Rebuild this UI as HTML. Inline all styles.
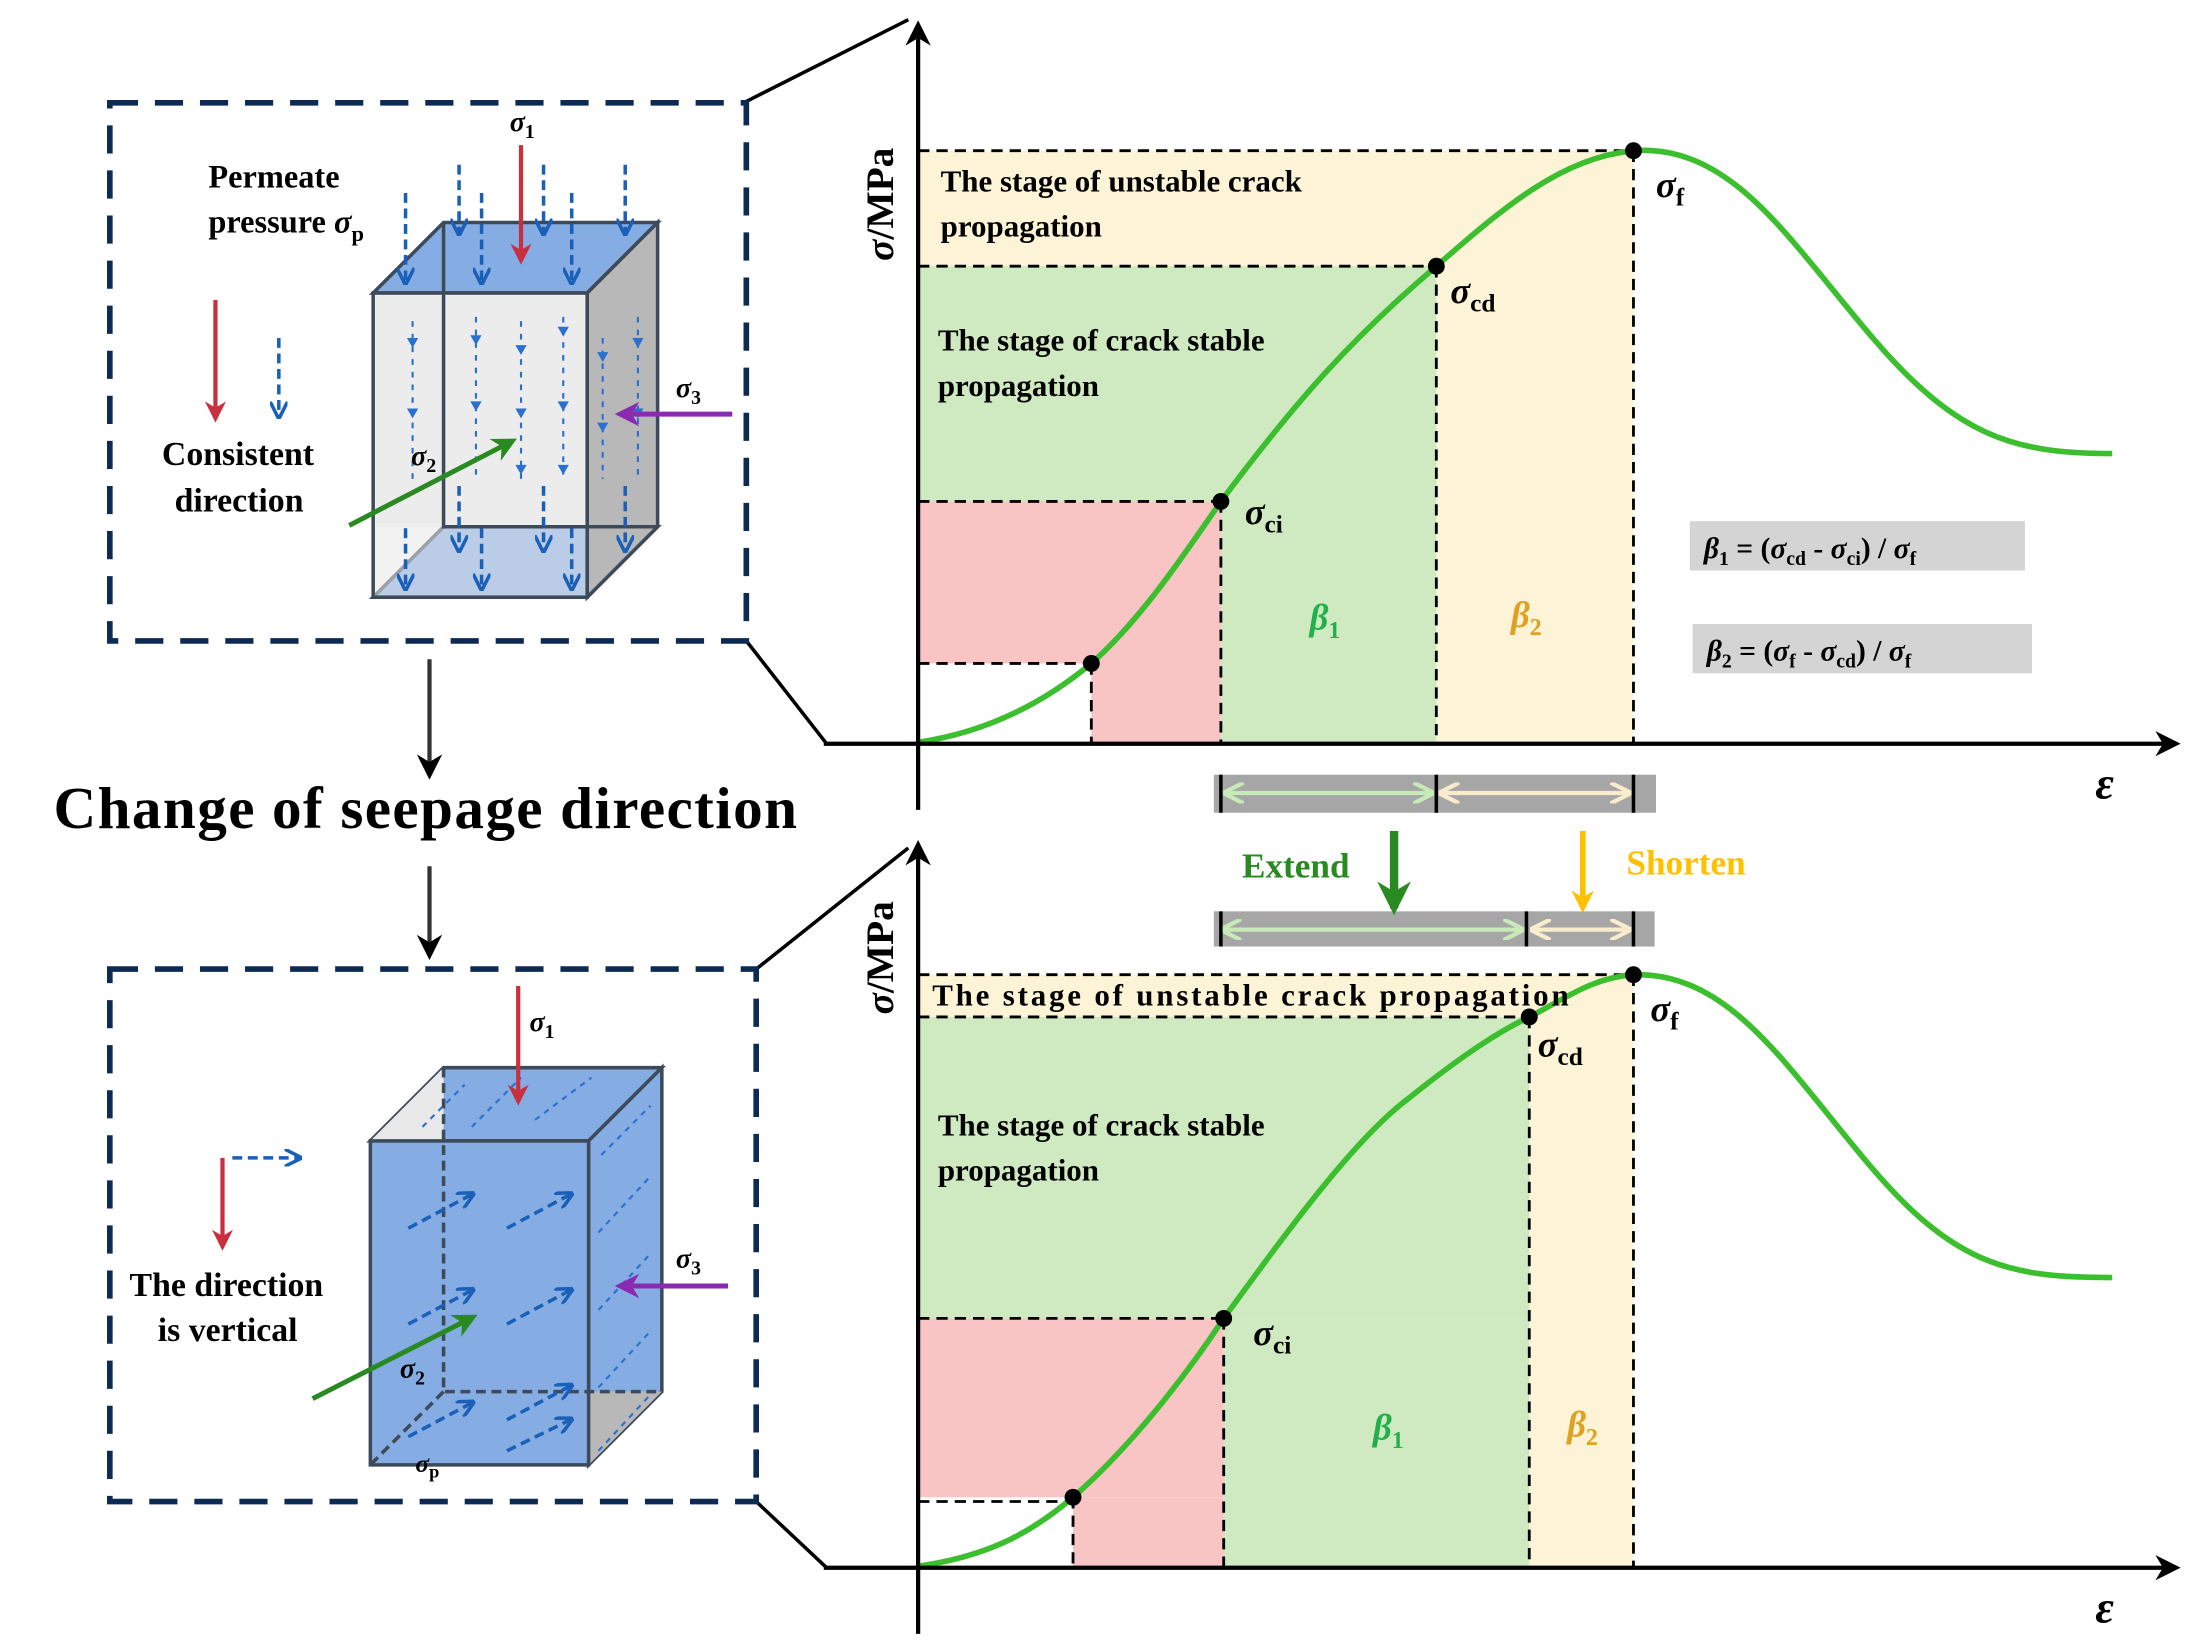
<!DOCTYPE html>
<html><head><meta charset="utf-8"><style>html,body{margin:0;padding:0;background:#fff}svg{display:block}</style></head>
<body>
<svg width="2208" height="1648" viewBox="0 0 1568 1170" preserveAspectRatio="none" xmlns="http://www.w3.org/2000/svg" font-family="Liberation Serif, serif" font-weight="bold">
<defs>
<marker id="ab" viewBox="0 0 10 10" refX="8" refY="5" markerWidth="6" markerHeight="6" orient="auto"><path d="M0,0 L10,5 L0,10 L3,5z" fill="#000"/></marker>
<marker id="ar" viewBox="0 0 10 10" refX="8" refY="5" markerWidth="5" markerHeight="5" orient="auto"><path d="M0,0 L10,5 L0,10 L3,5z" fill="#c8303f"/></marker>
<marker id="ap" viewBox="0 0 10 10" refX="8" refY="5" markerWidth="5" markerHeight="5" orient="auto"><path d="M0,0 L10,5 L0,10 L3,5z" fill="#8a2ab0"/></marker>
<marker id="ag" viewBox="0 0 10 10" refX="8" refY="5" markerWidth="5" markerHeight="5" orient="auto"><path d="M0,0 L10,5 L0,10 L3,5z" fill="#2a8a22"/></marker>
<marker id="abl" viewBox="0 0 10 10" refX="8" refY="5" markerWidth="5" markerHeight="5" orient="auto"><path d="M0,0 L10,5 L0,10" fill="none" stroke="#1a5fb8" stroke-width="2"/></marker>
<marker id="ao" viewBox="0 0 10 10" refX="8" refY="5" markerWidth="4" markerHeight="4" orient="auto"><path d="M0,0 L10,5 L0,10 L3,5z" fill="#ffc000"/></marker>
<marker id="agd" viewBox="0 0 10 10" refX="8" refY="5" markerWidth="4" markerHeight="4" orient="auto"><path d="M0,0 L10,5 L0,10 L3,5z" fill="#2a8a22"/></marker>
<marker id="alg" viewBox="0 0 10 10" refX="9" refY="5" markerWidth="5" markerHeight="5" orient="auto-start-reverse"><path d="M0,0 L10,5 L0,10" fill="none" stroke="#c8eab8" stroke-width="2"/></marker>
<marker id="aly" viewBox="0 0 10 10" refX="9" refY="5" markerWidth="5" markerHeight="5" orient="auto-start-reverse"><path d="M0,0 L10,5 L0,10" fill="none" stroke="#f8eccc" stroke-width="2"/></marker>
</defs>

<!-- ===== TOP CHART ===== -->
<rect x="652" y="107" width="508" height="83" fill="#fdf3d6"/>
<rect x="1020" y="189" width="140" height="339" fill="#fdf3d6"/>
<rect x="652" y="189" width="368" height="167" fill="#cfeac0"/>
<rect x="867" y="356" width="153" height="172" fill="#cfeac0"/>
<rect x="652" y="356" width="215" height="115" fill="#f8c4c4"/>
<rect x="775" y="471" width="92" height="57" fill="#f8c4c4"/>
<g stroke="#000" stroke-width="2" stroke-dasharray="8,5" fill="none">
<path d="M652,107H1160M652,189H1020M652,356H867M652,471H775M1160,107V528M1020,189V528M867,356V528M775,471V528"/>
</g>
<path d="M652,527 C700,520 740,500 775,471 C810,440 840,395 867,356 C920,285 960,240 1020,189 C1070,145 1110,112 1160,107 C1230,102 1270,170 1330,240 C1390,310 1430,322 1500,322" fill="none" stroke="#3cbf2e" stroke-width="4"/>
<g fill="#000"><circle cx="775" cy="471" r="6"/><circle cx="867" cy="356" r="6"/><circle cx="1020" cy="189" r="6"/><circle cx="1160" cy="107" r="6"/></g>
<line x1="652" y1="575" x2="652" y2="18" stroke="#000" stroke-width="3" marker-end="url(#ab)"/>
<line x1="585" y1="528" x2="1545" y2="528" stroke="#000" stroke-width="3" marker-end="url(#ab)"/>
<text transform="translate(634,145) rotate(-90)" font-size="28" text-anchor="middle"><tspan font-style="italic">σ</tspan>/MPa</text>
<text x="1488" y="567" font-size="32" font-style="italic">ε</text>
<g font-size="22"><text x="668" y="136">The stage of unstable crack</text><text x="668" y="168">propagation</text>
<text x="666" y="249">The stage of crack stable</text><text x="666" y="281">propagation</text></g>
<g font-size="26" font-style="italic"><text x="884" y="372">σ<tspan font-size="18" font-style="normal" dy="6">ci</tspan></text>
<text x="1030" y="215">σ<tspan font-size="18" font-style="normal" dy="6">cd</tspan></text>
<text x="1176" y="140">σ<tspan font-size="18" font-style="normal" dy="6">f</tspan></text></g>
<text x="930" y="447" font-size="26" font-style="italic" fill="#22b04a">β<tspan font-size="17" dy="6" font-style="normal">1</tspan></text>
<text x="1073" y="445" font-size="26" font-style="italic" fill="#e0a020">β<tspan font-size="17" dy="6" font-style="normal">2</tspan></text>
<rect x="1200" y="370" width="238" height="35" fill="#d4d4d4"/>
<rect x="1202" y="443" width="241" height="35" fill="#d4d4d4"/>
<g font-size="21" font-style="italic"><text x="1210" y="396">β<tspan font-size="14" dy="5" font-style="normal">1</tspan><tspan dy="-5" font-style="normal"> = (</tspan>σ<tspan font-size="14" dy="5" font-style="normal">cd</tspan><tspan dy="-5" font-style="normal"> - </tspan>σ<tspan font-size="14" dy="5" font-style="normal">ci</tspan><tspan dy="-5" font-style="normal">) / </tspan>σ<tspan font-size="14" dy="5" font-style="normal">f</tspan></text>
<text x="1212" y="469">β<tspan font-size="14" dy="5" font-style="normal">2</tspan><tspan dy="-5" font-style="normal"> = (</tspan>σ<tspan font-size="14" dy="5" font-style="normal">f</tspan><tspan dy="-5" font-style="normal"> - </tspan>σ<tspan font-size="14" dy="5" font-style="normal">cd</tspan><tspan dy="-5" font-style="normal">) / </tspan>σ<tspan font-size="14" dy="5" font-style="normal">f</tspan></text></g>

<!-- middle bars -->
<rect x="862" y="550" width="314" height="27" fill="#a6a6a6"/>
<line x1="870" y1="563" x2="1017" y2="563" stroke="#c8eab8" stroke-width="3" marker-start="url(#alg)" marker-end="url(#alg)"/>
<line x1="1023" y1="563" x2="1157" y2="563" stroke="#f8eccc" stroke-width="3" marker-start="url(#aly)" marker-end="url(#aly)"/>
<g stroke="#000" stroke-width="2.5"><path d="M867,550V577M1020,550V577M1160,550V577"/></g>
<rect x="862" y="647" width="313" height="25" fill="#a6a6a6"/>
<line x1="868" y1="660" x2="1081" y2="660" stroke="#c8eab8" stroke-width="3" marker-start="url(#alg)" marker-end="url(#alg)"/>
<line x1="1088" y1="660" x2="1157" y2="660" stroke="#f8eccc" stroke-width="3" marker-start="url(#aly)" marker-end="url(#aly)"/>
<g stroke="#000" stroke-width="2.5"><path d="M867,647V672M1084,647V672M1160,647V672"/></g>
<line x1="990" y1="590" x2="990" y2="645" stroke="#2a8a22" stroke-width="6" marker-end="url(#agd)"/>
<line x1="1124" y1="590" x2="1124" y2="645" stroke="#ffc000" stroke-width="4" marker-end="url(#ao)"/>
<text x="882" y="623" font-size="25" fill="#2a8a22">Extend</text>
<text x="1155" y="621" font-size="25" fill="#ffc000">Shorten</text>

<!-- ===== BOTTOM CHART ===== -->
<rect x="652" y="692" width="508" height="31" fill="#fdf3d6"/>
<rect x="1086" y="722" width="74" height="391" fill="#fdf3d6"/>
<rect x="652" y="722" width="434" height="214" fill="#cfeac0"/>
<rect x="869" y="936" width="217" height="177" fill="#cfeac0"/>
<rect x="652" y="936" width="217" height="127" fill="#f8c4c4"/>
<rect x="762" y="1063" width="107" height="50" fill="#f8c4c4"/>
<g stroke="#000" stroke-width="2" stroke-dasharray="8,5" fill="none">
<path d="M652,692H1160M652,722H1086M652,936H869M652,1066H762M1160,692V1113M1086,722V1113M869,936V1113M762,1063V1113"/>
</g>
<path d="M652,1112 C700,1105 730,1090 762,1063 C800,1030 840,980 869,936 C910,880 960,810 1000,780 C1040,748 1065,732 1086,722 C1110,710 1130,694 1160,692 C1230,690 1270,760 1330,830 C1390,900 1430,907 1500,907" fill="none" stroke="#3cbf2e" stroke-width="4"/>
<g fill="#000"><circle cx="762" cy="1063" r="6"/><circle cx="869" cy="936" r="6"/><circle cx="1086" cy="722" r="6"/><circle cx="1160" cy="692" r="6"/></g>
<line x1="652" y1="1160" x2="652" y2="600" stroke="#000" stroke-width="3" marker-end="url(#ab)"/>
<line x1="585" y1="1113" x2="1545" y2="1113" stroke="#000" stroke-width="3" marker-end="url(#ab)"/>
<text transform="translate(634,680) rotate(-90)" font-size="28" text-anchor="middle"><tspan font-style="italic">σ</tspan>/MPa</text>
<text x="1488" y="1152" font-size="32" font-style="italic">ε</text>
<g font-size="22"><text x="662" y="714" textLength="452">The stage of unstable crack propagation</text>
<text x="666" y="806">The stage of crack stable</text><text x="666" y="838">propagation</text></g>
<g font-size="26" font-style="italic"><text x="890" y="955">σ<tspan font-size="18" font-style="normal" dy="6">ci</tspan></text>
<text x="1092" y="750">σ<tspan font-size="18" font-style="normal" dy="6">cd</tspan></text>
<text x="1172" y="725">σ<tspan font-size="18" font-style="normal" dy="6">f</tspan></text></g>
<text x="975" y="1022" font-size="26" font-style="italic" fill="#22b04a">β<tspan font-size="17" dy="6" font-style="normal">1</tspan></text>
<text x="1113" y="1020" font-size="26" font-style="italic" fill="#e0a020">β<tspan font-size="17" dy="6" font-style="normal">2</tspan></text>

<!-- connecting lines -->
<g stroke="#000" stroke-width="2.5" fill="none">
<path d="M530,72L645,14M530,455L587,528M537,688L645,602M537,1066L587,1113"/>
</g>

<!-- ===== TOP LEFT BOX ===== -->
<rect x="78" y="73" width="452" height="382" fill="none" stroke="#0d2a55" stroke-width="4" stroke-dasharray="20,12"/>
<polygon points="265,208 315,158 467,158 417,208" fill="#86ace4" stroke="#3c4a5a" stroke-width="2.5"/>
<polygon points="265,424 315,374 467,374 417,424" fill="#86ace4" stroke="#3c4a5a" stroke-width="2.5"/>
<polygon points="417,208 467,158 467,374 417,424" fill="#b8b8b8" stroke="#3c4a5a" stroke-width="2.5"/>
<rect x="265" y="208" width="152" height="216" fill="#e8e8e8" fill-opacity="0.55" stroke="#3c4a5a" stroke-width="2.5"/>
<rect x="267" y="210" width="148" height="164" fill="#e8e8e8" fill-opacity="0.6"/>
<path d="M315,158V374H467" stroke="#3c4a5a" stroke-width="2.5" fill="none"/>
<g stroke="#1a5fb8" stroke-width="2.5" stroke-dasharray="7,4" marker-end="url(#abl)">
<line x1="288" y1="137" x2="288" y2="200"/><line x1="326" y1="117" x2="326" y2="165"/><line x1="342" y1="137" x2="342" y2="200"/>
<line x1="386" y1="117" x2="386" y2="165"/><line x1="406" y1="137" x2="406" y2="200"/><line x1="444" y1="117" x2="444" y2="165"/>
<line x1="288" y1="375" x2="288" y2="417"/><line x1="342" y1="375" x2="342" y2="417"/><line x1="406" y1="375" x2="406" y2="417"/>
<line x1="326" y1="345" x2="326" y2="390"/><line x1="386" y1="345" x2="386" y2="390"/><line x1="444" y1="345" x2="444" y2="390"/>
</g>
<g stroke="#2a70d0" stroke-width="1.5" stroke-dasharray="4,5">
<path d="M293,228V340M338,225V340M370,228V340M400,225V340M428,240V340M453,225V340"/>
</g>
<g fill="#2a70d0"><path d="M289,240h8l-4,7z M289,290h8l-4,7z M334,238h8l-4,7z M334,285h8l-4,7z M366,245h8l-4,7z M366,290h8l-4,7z M396,232h8l-4,7z M396,285h8l-4,7z M424,250h8l-4,7z M424,300h8l-4,7z M449,240h8l-4,7z M449,290h8l-4,7z M366,330h8l-4,7z M396,330h8l-4,7z"/></g>
<line x1="370" y1="103" x2="370" y2="185" stroke="#c8303f" stroke-width="3" marker-end="url(#ar)"/>
<text x="362" y="93" font-size="20" font-style="italic">σ<tspan font-size="14" dy="5" font-style="normal">1</tspan></text>
<g font-size="23"><text x="148" y="133">Permeate</text><text x="148" y="165">pressure <tspan font-style="italic">σ</tspan><tspan font-size="16" dy="6">p</tspan></text></g>
<line x1="153" y1="213" x2="153" y2="297" stroke="#c8303f" stroke-width="3" marker-end="url(#ar)"/>
<line x1="198" y1="240" x2="198" y2="295" stroke="#1a5fb8" stroke-width="2.5" stroke-dasharray="7,4" marker-end="url(#abl)"/>
<g font-size="24"><text x="115" y="330">Consistent</text><text x="124" y="363">direction</text></g>
<line x1="520" y1="294" x2="440" y2="294" stroke="#8a2ab0" stroke-width="3.5" marker-end="url(#ap)"/>
<text x="480" y="282" font-size="20" font-style="italic">σ<tspan font-size="14" dy="5" font-style="normal">3</tspan></text>
<line x1="248" y1="373" x2="364" y2="313" stroke="#2a8a22" stroke-width="3.5" marker-end="url(#ag)"/>
<text x="292" y="330" font-size="20" font-style="italic">σ<tspan font-size="14" dy="5" font-style="normal">2</tspan></text>

<!-- arrows + title -->
<line x1="305" y1="468" x2="305" y2="550" stroke="#333" stroke-width="3" marker-end="url(#ab)"/>
<text x="38" y="588" font-size="42" textLength="528">Change of seepage direction</text>
<line x1="305" y1="615" x2="305" y2="678" stroke="#333" stroke-width="3" marker-end="url(#ab)"/>

<!-- ===== BOTTOM LEFT BOX ===== -->
<rect x="78" y="688" width="459" height="378" fill="none" stroke="#0d2a55" stroke-width="4" stroke-dasharray="20,12"/>
<polygon points="263,810 315,758 470,758 418,810" fill="#86ace4" stroke="#3c4a5a" stroke-width="2.5"/>
<polygon points="263,810 315,758 315,810" fill="#e8e8e8"/>
<polygon points="418,810 470,758 470,988 418,1040" fill="#86ace4" stroke="#3c4a5a" stroke-width="2.5"/>
<polygon points="418,1040 470,988 418,988" fill="#b8b8b8"/>
<rect x="263" y="810" width="155" height="230" fill="#86ace4" stroke="#3c4a5a" stroke-width="2.5"/>
<path d="M315,758V988H470M315,988L263,1040" stroke="#3c4a5a" stroke-width="2.5" stroke-dasharray="7,4" fill="none"/>
<g stroke="#1a5fb8" stroke-width="2.5" stroke-dasharray="7,4" marker-end="url(#abl)">
<line x1="290" y1="872" x2="335" y2="848"/><line x1="360" y1="872" x2="405" y2="848"/>
<line x1="290" y1="940" x2="335" y2="916"/><line x1="360" y1="940" x2="405" y2="916"/>
<line x1="360" y1="1008" x2="405" y2="984"/><line x1="290" y1="1020" x2="335" y2="996"/><line x1="360" y1="1030" x2="405" y2="1008"/>
</g>
<g stroke="#2a70d0" stroke-width="1.5" stroke-dasharray="4,4"><path d="M300,800L330,770M335,800L370,765M380,795L420,765M425,875L462,835M425,930L462,890M425,985L462,945M425,1030L462,990M427,820L462,785"/></g>
<line x1="368" y1="700" x2="368" y2="782" stroke="#c8303f" stroke-width="3" marker-end="url(#ar)"/>
<text x="376" y="732" font-size="20" font-style="italic">σ<tspan font-size="14" dy="5" font-style="normal">1</tspan></text>
<line x1="158" y1="822" x2="158" y2="885" stroke="#c8303f" stroke-width="3" marker-end="url(#ar)"/>
<line x1="165" y1="822" x2="212" y2="822" stroke="#1a5fb8" stroke-width="2.5" stroke-dasharray="7,4" marker-end="url(#abl)"/>
<g font-size="24"><text x="92" y="920">The direction</text><text x="112" y="952">is vertical</text></g>
<line x1="517" y1="913" x2="440" y2="913" stroke="#8a2ab0" stroke-width="3.5" marker-end="url(#ap)"/>
<text x="480" y="900" font-size="20" font-style="italic">σ<tspan font-size="14" dy="5" font-style="normal">3</tspan></text>
<line x1="222" y1="993" x2="336" y2="935" stroke="#2a8a22" stroke-width="3.5" marker-end="url(#ag)"/>
<text x="284" y="978" font-size="20" font-style="italic">σ<tspan font-size="14" dy="5" font-style="normal">2</tspan></text>
<text x="295" y="1045" font-size="18" font-style="italic">σ<tspan font-size="13" dy="4" font-style="normal">p</tspan></text>
</svg>
</body></html>
